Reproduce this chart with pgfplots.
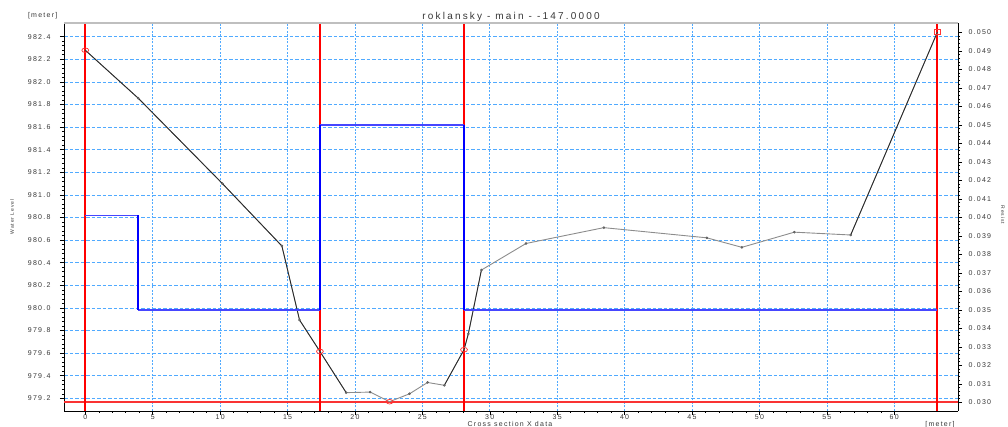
\documentclass[border=0pt]{standalone}
\usepackage{pgfplots}
\pgfplotsset{compat=1.18}
\usepackage{fontspec}
\setmainfont{Liberation Sans}
\newfontfamily\lsf[LetterSpace=18]{Liberation Sans}
\newfontfamily\tsf[LetterSpace=22]{Liberation Sans}
\definecolor{gridblue}{RGB}{80,170,255}
\definecolor{txt}{RGB}{55,55,55}
\definecolor{lineblue}{RGB}{70,70,255}
\definecolor{groundgray}{RGB}{140,140,140}
\definecolor{redline}{RGB}{250,50,50}
\begin{document}
\begin{tikzpicture}[x=1pt,y=1pt]
\path[use as bounding box] (0,0) rectangle (1008,427);
\begin{axis}[
  at={(64pt,16pt)}, anchor=south west, scale only axis,
  width=894pt, height=388pt,
  xmin=-1.58, xmax=64.73, ymin=979.0876, ymax=982.521,
  axis x line*=bottom, axis y line*=left,
  axis line style={-, black, line width=0.8pt},
  tick align=outside,
  major tick length=4pt, minor tick length=2pt,
  every tick/.style={black, line width=0.5pt},
  xtick={0,5,10,15,20,25,30,35,40,45,50,55,60},
  ytick={979.2,979.4,979.6,979.8,980.0,980.2,980.4,980.6,980.8,981.0,981.2,981.4,981.6,981.8,982.0,982.2,982.4},
  minor x tick num=4, minor y tick num=4,
  xmajorgrids, ymajorgrids,
  x grid style={gridblue, line width=0.6pt, dash pattern=on 2pt off 1.5pt},
  y grid style={gridblue, line width=0.6pt, dash pattern=on 3.5pt off 2pt},
  ticklabel style={font=\lsf\fontsize{7}{8}\selectfont, text=txt},
  /pgf/number format/assume math mode=true,
  yticklabel style={xshift=-6pt, /pgf/number format/.cd, fixed, fixed zerofill, precision=1, 1000 sep={}},
  xticklabel style={yshift=4pt, /pgf/number format/.cd, fixed, precision=0},
  clip=true,
]
% red bottom line
\addplot[redline, line width=1.8pt] coordinates {(-1.58,979.165) (64.73,979.165)};
% red bank lines
\addplot[red, line width=2pt] coordinates {(0,979.0876) (0,982.521)};
\addplot[red, line width=2pt] coordinates {(17.4,979.0876) (17.4,982.521)};
\addplot[red, line width=2pt] coordinates {(28.09,979.0876) (28.09,982.521)};
\addplot[red, line width=2pt] coordinates {(63.2,979.0876) (63.2,982.521)};
% ground line (gray base)
\addplot[groundgray, line width=0.9pt] coordinates {
(0,982.28) (3.93,981.855) (10.17,981.10) (14.58,980.548) (15.89,979.893)
(17.4,979.615) (19.35,979.25) (21.13,979.255) (22.57,979.17) (24.05,979.24)
(25.39,979.34) (26.63,979.315) (28.09,979.63) (28.41,979.77) (29.38,980.335)
(32.69,980.57) (38.46,980.71) (46.1,980.62) (48.7,980.536) (52.59,980.67)
(56.77,980.645) (63.2,982.44)};
% black segments
\addplot[black!85, line width=0.8pt] coordinates {
(0,982.28) (3.93,981.855) (10.17,981.10) (14.58,980.548) (15.89,979.893)
(17.4,979.615) (19.35,979.25)};
\addplot[black!85, line width=0.8pt] coordinates {
(26.63,979.315) (28.09,979.63) (28.41,979.77) (29.38,980.335)};
\addplot[black!85, line width=0.8pt] coordinates {(56.77,980.645) (63.2,982.44)};
% point marks
\addplot[only marks, mark=*, mark size=1.1pt, mark options={fill=black!55, draw=black!65}] coordinates {
(3.93,981.855) (10.17,981.10) (14.58,980.548) (15.89,979.893)
(19.35,979.25) (21.13,979.255) (24.05,979.24)
(25.39,979.34) (26.63,979.315) (28.41,979.77) (29.38,980.335)
(32.69,980.57) (38.46,980.71) (46.1,980.62) (48.7,980.536) (52.59,980.67)
(56.77,980.645)};
% red markers
\addplot[only marks, mark=o, mark size=2.3pt, mark options={draw=red!80, fill=red!15, xscale=1.5, line width=0.7pt}] coordinates {
(0,982.28) (17.4,979.615) (22.57,979.17) (28.09,979.63)};
\addplot[only marks, mark=square, mark size=2.4pt, mark options={draw=red!80, fill=red!15, xscale=1.3, line width=0.7pt}] coordinates {(63.2,982.44)};
\end{axis}
\begin{axis}[
  at={(64pt,16pt)}, anchor=south west, scale only axis,
  width=894pt, height=388pt,
  xmin=-1.58, xmax=64.73, ymin=0.02953, ymax=0.050503,
  axis y line*=right, axis x line*=top,
  y axis line style={-, black, line width=0.8pt},
  x axis line style={-, black!25, line width=2.2pt},
  xtick=\empty,
  tick align=outside,
  major tick length=4pt, minor tick length=2pt,
  every tick/.style={black, line width=0.5pt},
  ytick={0.030,0.031,0.032,0.033,0.034,0.035,0.036,0.037,0.038,0.039,0.040,0.041,0.042,0.043,0.044,0.045,0.046,0.047,0.048,0.049,0.050},
  minor y tick num=4,
  scaled y ticks=false,
  ticklabel style={font=\lsf\fontsize{7}{8}\selectfont, text=txt},
  /pgf/number format/assume math mode=true,
  yticklabel style={xshift=3pt, /pgf/number format/.cd, fixed, fixed zerofill, precision=3},
]
% roughness: horizontal parts
\addplot[lineblue, line width=1.6pt] coordinates {(0,0.0401) (3.93,0.0401)};
\addplot[lineblue, line width=1.6pt] coordinates {(3.93,0.035) (17.4,0.035)};
\addplot[lineblue, line width=1.6pt] coordinates {(17.4,0.045) (28.09,0.045)};
\addplot[lineblue, line width=1.6pt] coordinates {(28.09,0.035) (63.2,0.035)};
% vertical parts
\addplot[blue, line width=1.8pt] coordinates {(3.93,0.0401) (3.93,0.035)};
\addplot[blue, line width=1.8pt] coordinates {(17.4,0.035) (17.4,0.045)};
\addplot[blue, line width=1.8pt] coordinates {(28.09,0.045) (28.09,0.035)};
\end{axis}
\node[font=\tsf\fontsize{10}{11}\selectfont, text=txt] at (511,410.5) {roklansky - main - -147.0000};
\node[font=\lsf\fontsize{7}{8}\selectfont, text=txt] at (42.7,411.5) {[meter]};
\node[font=\lsf\fontsize{5}{6}\selectfont, text=txt, rotate=90] at (12,210) {Water Level};
\node[font=\lsf\fontsize{5}{6}\selectfont, text=txt, rotate=-90] at (1003,212) {Resist};
\node[font=\lsf\fontsize{7}{8}\selectfont, text=txt, anchor=base] at (510,0.4) {Cross section X data};
\node[font=\lsf\fontsize{7}{8}\selectfont, text=txt, anchor=base] at (940,0.4) {[meter]};
\end{tikzpicture}
\end{document}
